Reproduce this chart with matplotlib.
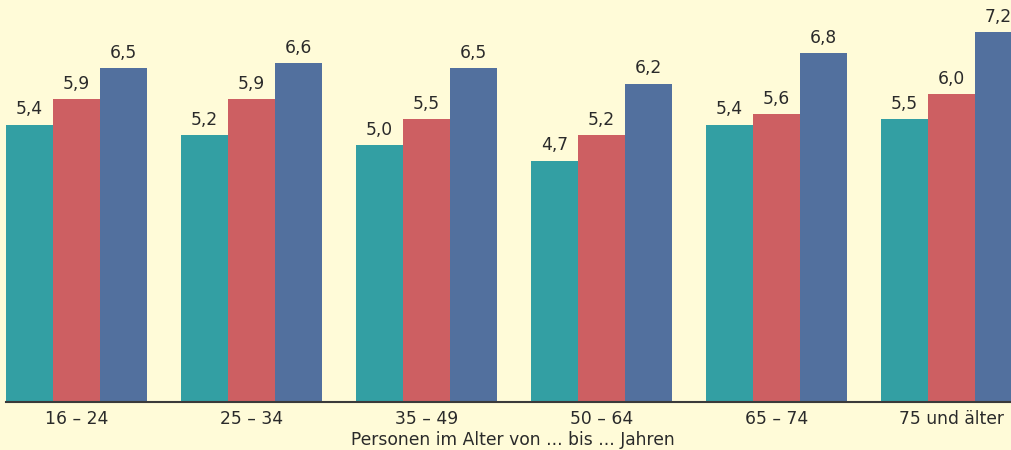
import numpy as np
from matplotlib import pyplot as plt

groups = ['16 – 24', '25 – 34', '35 – 49', '50 – 64', '65 – 74', '75 und älter']
series_a = [5.4, 5.2, 5.0, 4.7, 5.4, 5.5]
series_b = [5.9, 5.9, 5.5, 5.2, 5.6, 6.0]
series_c = [6.5, 6.6, 6.5, 6.2, 6.8, 7.2]
colors = ['#339fa3', '#cd5f62', '#52709e']
bg = '#fffbd8'

plt.rcParams['font.family'] = ['DejaVu Sans']

W, H = 1011, 450
fig = plt.figure(figsize=(W / 100, H / 100), dpi=100, facecolor=bg)
ax = fig.add_axes([6 / W, 48 / H, 1 - 6 / W, 402 / H])
ax.set_facecolor(bg)

w = 47 / 175
x = np.arange(len(groups))
for k, vals in enumerate([series_a, series_b, series_c]):
    pos = x + (k - 1) * w
    ax.bar(pos, vals, width=w, color=colors[k], linewidth=0)
    for p, v in zip(pos, vals):
        ax.text(p, v + 0.12, f'{v:.1f}'.replace('.', ','), ha='center', va='bottom',
                fontsize=12.3, color='#2a2a2a')

ax.set_xlim(-1.5 * w, (W - 76.5) / 175)
ax.set_ylim(0, 402 / 51.37)
for s in ['top', 'right', 'left']:
    ax.spines[s].set_visible(False)
ax.spines['bottom'].set_color('#3a3a3a')
ax.spines['bottom'].set_linewidth(1.5)
ax.set_yticks([])
ax.set_xticks(x)
ax.set_xticklabels(groups, fontsize=12.3, color='#2a2a2a')
ax.tick_params(axis='x', length=0, pad=6)

fig.text(513 / W, 1 - 440 / H, 'Personen im Alter von ... bis ... Jahren', ha='center', va='center',
         fontsize=12.3, color='#2a2a2a')

fig.savefig('out.png', dpi=100, facecolor=bg)
